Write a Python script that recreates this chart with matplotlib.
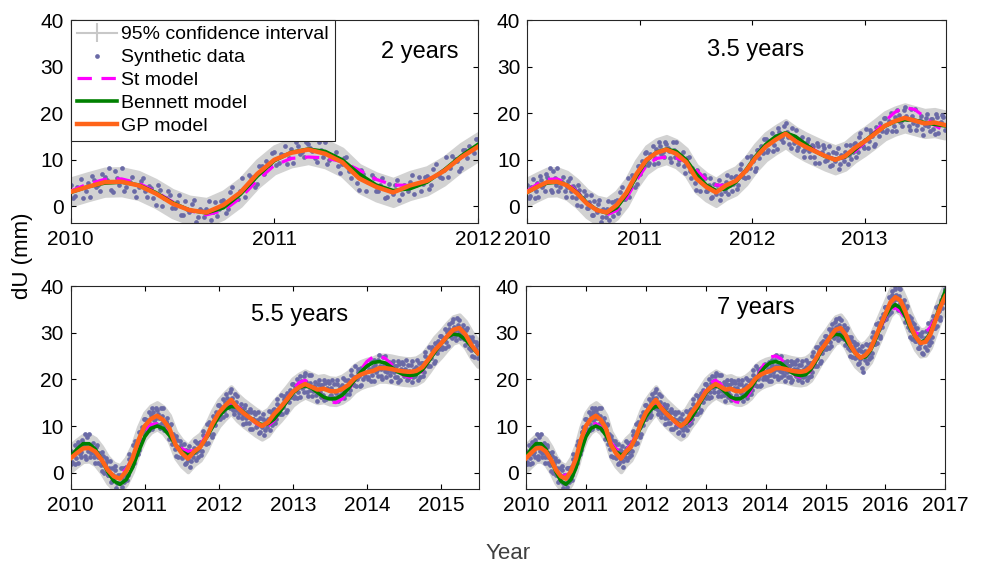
import matplotlib.pyplot as plt
import numpy as np

plt.rcParams['font.family'] = ['Liberation Sans', 'DejaVu Sans']

# GP model fit, monthly values from Jan 2010 (mm)
gp_fit = [3.1, 4.2, 5.2, 5.3, 4.5, 2.8, 0.6, -0.8, -1.3, 0.3, 3.0, 7.0,
          10.0, 11.5, 12.2, 11.3, 9.5, 6.0, 4.2, 3.0, 4.5, 5.5, 7.6, 10.5,
          12.8, 14.3, 15.6, 14.0, 12.8, 11.8, 10.8, 10.0, 10.8, 12.6, 14.0, 15.6,
          17.3, 18.3, 19.0, 18.4, 17.8, 18.0, 17.5, 17.4, 17.9, 18.8, 20.2, 21.0,
          21.5, 21.8, 22.4, 22.4, 22.2, 21.9, 21.7, 21.6, 21.8, 22.6, 24.3, 26.2,
          27.6, 29.2, 30.6, 31.0, 29.6, 27.3, 25.6, 24.6, 25.2, 26.5, 29.0, 31.5,
          34.0, 36.5, 37.6, 36.9, 34.5, 31.5, 29.2, 27.8, 28.0, 29.6, 32.6, 35.5,
          37.8]

# Bennett and St fits for the short records (2 and 3.5 years), monthly
bennett_short = [3.0, 4.2, 5.0, 5.2, 4.6, 3.0, 0.8, -0.8, -1.4, -0.3, 2.6, 6.5,
                 9.8, 11.6, 12.3, 11.8, 10.0, 7.0, 4.6, 3.4, 3.8, 5.2, 7.8, 10.8,
                 13.3, 15.0, 15.8, 15.0, 13.4, 11.8, 10.7, 10.1, 10.6, 12.2, 14.1, 15.8,
                 17.2, 18.2, 18.6, 18.5, 18.0, 17.6, 17.3]
st_short = [3.3, 4.8, 5.8, 5.9, 5.0, 3.2, 1.0, -0.9, -1.8, -0.9, 1.8, 5.6,
            8.8, 10.3, 10.6, 10.4, 9.6, 7.8, 5.8, 4.6, 4.5, 5.6, 7.8, 10.4,
            12.8, 14.6, 15.5, 14.9, 13.5, 12.0, 10.8, 10.2, 10.5, 11.8, 13.8, 16.0,
            18.3, 20.2, 21.2, 20.8, 19.2, 17.4, 16.2]

# Bennett and St fits for the long records (5.5 and 7 years), monthly
bennett_long = [3.5, 5.0, 6.2, 6.2, 5.0, 2.8, 0.2, -1.8, -2.5, -1.5, 1.0, 4.5,
                7.7, 9.5, 10.0, 9.5, 8.0, 6.0, 4.5, 3.8, 4.2, 5.5, 7.5, 9.8,
                12.0, 13.5, 14.2, 14.0, 13.0, 11.8, 10.8, 10.3, 10.5, 11.5, 13.2, 15.2,
                17.0, 18.2, 18.6, 18.2, 17.2, 16.2, 15.8, 15.9, 16.6, 18.0, 19.8, 21.5,
                22.8, 23.6, 23.8, 23.5, 22.6, 21.6, 21.0, 20.8, 21.0, 22.0, 23.8, 25.8,
                27.6, 29.0, 29.7, 29.5, 28.5, 27.0, 25.5, 24.6, 24.8, 26.2, 28.5, 31.2,
                33.6, 35.3, 36.0, 35.3, 33.5, 31.0, 29.0, 28.0, 28.3, 30.0, 32.8, 36.0,
                39.0]
st_long = [3.3, 4.6, 5.5, 5.5, 4.6, 2.6, 0.5, -0.8, -0.5, 0.8, 3.0, 6.2,
           9.0, 10.3, 10.5, 9.8, 8.5, 6.5, 5.2, 4.5, 4.8, 6.0, 8.0, 10.2,
           12.3, 13.8, 14.6, 14.3, 13.2, 11.8, 10.6, 9.8, 10.0, 11.2, 13.2, 15.6,
           17.8, 19.3, 19.8, 19.0, 17.5, 16.0, 15.2, 15.0, 15.8, 17.5, 19.8, 22.0,
           23.8, 24.8, 25.0, 24.5, 23.2, 21.8, 20.8, 20.4, 20.6, 21.8, 23.8, 26.0,
           27.8, 29.2, 29.8, 29.5, 28.5, 27.0, 25.6, 24.8, 25.0, 26.4, 28.6, 31.0,
           33.2, 34.8, 35.3, 34.6, 33.0, 31.2, 30.0, 29.6, 30.0, 31.2, 33.2, 35.8,
           38.5]

# synthetic observations, weekly (1/48 yr) from Jan 2010 (mm)
dU_obs = [4.7, 2.3, 4.0, 1.9, 5.1, 6.6, 4.1, 3.4, 6.4, 8.3, 3.0, 6.0,
          8.2, 4.2, 5.3, 3.4, 4.1, 6.0, 2.0, 4.0, 0.4, 3.6, 1.8, 3.2,
          -0.4, 0.9, -1.9, 1.1, -1.1, 1.4, -2.3, -1.0, -0.5, -3.0, 0.9, -0.6,
          1.3, -0.5, 4.1, 1.5, 3.3, 2.1, 6.7, 5.9, 4.8, 8.7, 9.8, 8.6,
          11.6, 9.3, 11.1, 9.1, 12.4, 13.9, 11.3, 10.5, 13.4, 11.8, 9.5, 12.2,
          13.8, 10.0, 10.8, 8.7, 9.1, 10.5, 6.1, 7.7, 3.6, 6.9, 5.2, 6.7,
          3.2, 4.5, 1.8, 4.8, 2.7, 5.7, 2.6, 4.3, 5.3, 2.7, 6.4, 4.8,
          6.5, 4.6, 9.0, 6.3, 7.9, 6.4, 10.8, 9.7, 8.3, 12.0, 13.0, 11.5,
          14.4, 12.1, 13.9, 11.9, 15.2, 16.8, 14.4, 13.8, 17.9, 15.0, 12.5, 15.1,
          16.5, 12.8, 13.8, 11.8, 12.4, 14.5, 10.6, 12.9, 9.4, 12.9, 11.4, 13.1,
          9.8, 11.2, 8.6, 11.7, 9.7, 12.5, 9.2, 10.8, 11.6, 9.2, 13.1, 11.7,
          13.6, 11.6, 15.7, 12.9, 14.3, 12.5, 16.5, 15.1, 13.4, 16.9, 17.8, 16.2,
          18.9, 16.5, 18.1, 16.1, 19.2, 20.7, 18.1, 17.3, 21.3, 18.7, 16.4, 19.3,
          20.9, 17.4, 18.5, 16.7, 17.4, 19.8, 16.2, 18.8, 15.6, 19.2, 17.9, 19.6,
          16.5, 18.1, 15.7, 18.9, 17.1, 19.8, 16.5, 18.0, 18.7, 16.0, 19.8, 18.1,
          19.8, 17.8, 21.9, 19.1, 20.5, 18.5, 22.3, 20.7, 18.8, 22.0, 22.6, 20.7,
          23.1, 20.5, 22.0, 19.7, 22.7, 24.2, 21.5, 20.8, 25.2, 22.2, 20.1, 23.1,
          24.9, 21.5, 22.7, 21.0, 21.8, 24.0, 20.4, 22.8, 19.5, 23.2, 21.9, 23.8,
          20.7, 22.3, 19.9, 23.1, 21.3, 24.0, 20.5, 22.0, 22.6, 19.9, 23.6, 21.9,
          23.6, 21.6, 25.9, 23.1, 24.6, 22.9, 27.0, 25.6, 24.0, 27.5, 28.2, 26.6,
          29.2, 26.9, 28.7, 26.8, 30.1, 31.8, 29.3, 28.8, 32.9, 30.5, 28.5, 31.6,
          32.7, 29.8, 30.7, 28.7, 29.2, 30.9, 26.8, 28.7, 24.9, 28.2, 26.6, 28.0,
          24.6, 26.0, 23.3, 26.4, 24.3, 27.1, 21.5, 25.3, 26.0, 23.4, 27.3, 25.7,
          27.5, 25.7, 30.2, 27.6, 29.3, 27.7, 32.0, 30.8, 29.3, 33.0, 34.1, 32.7,
          35.6, 33.5, 35.6, 33.9, 37.4, 39.0, 36.5, 35.8, 40.1, 37.2, 34.9, 37.8,
          39.4, 35.4, 36.1, 33.8, 34.1, 35.7, 31.3, 33.1, 29.1, 32.2, 30.5, 31.8,
          28.2, 29.5, 26.7, 29.7, 27.5, 30.2, 25.4, 28.2, 28.8, 26.3, 32.1, 28.7,
          30.6, 29.0, 33.5, 31.1, 32.9, 31.4, 35.8, 34.7, 33.3, 37.0, 37.9, 36.5,
          39.4]

# second set of observations, half a week after each of the above (mm)
dU_obs_b = [1.8, 4.2, 5.9, 3.2, 2.1, 5.7, 4.5, 6.9, 5.7, 3.6, 7.6, 4.6,
            3.3, 5.2, 6.3, 2.1, 5.5, 3.3, 4.3, 1.7, 4.5, 0.0, 1.8, 2.5,
            -0.4, 2.5, -1.8, -0.5, 0.5, -3.3, -0.5, -2.2, 1.1, -1.1, -2.0, 1.1,
            -1.5, 3.0, 2.0, 1.5, 6.0, 4.0, 6.3, 4.1, 8.7, 7.0, 9.2, 11.5,
            8.8, 11.3, 13.0, 10.4, 9.4, 12.9, 11.6, 13.9, 12.6, 10.3, 13.9, 10.7,
            9.2, 10.8, 11.7, 7.2, 10.3, 7.6, 8.2, 5.1, 7.8, 3.3, 5.3, 6.0,
            3.3, 6.2, 2.0, 3.3, 4.6, 1.3, 4.5, 3.3, 6.8, 4.5, 3.4, 6.4,
            3.7, 8.0, 6.8, 6.1, 10.5, 8.2, 10.2, 7.7, 12.1, 10.3, 12.2, 14.4,
            11.6, 14.1, 15.8, 13.2, 12.3, 15.9, 14.8, 17.2, 15.9, 13.4, 16.9, 13.5,
            12.0, 13.8, 14.8, 10.5, 13.9, 11.8, 13.1, 10.6, 13.7, 9.4, 11.6, 12.5,
            9.9, 12.9, 8.8, 10.2, 11.5, 8.0, 11.1, 9.7, 13.2, 11.1, 10.2, 13.4,
            10.7, 14.8, 13.5, 12.6, 16.7, 14.1, 15.8, 13.0, 17.1, 15.1, 17.0, 19.0,
            16.0, 18.4, 20.0, 17.3, 16.2, 19.7, 18.4, 20.7, 19.4, 17.2, 20.9, 17.8,
            16.4, 18.4, 19.5, 15.4, 19.0, 17.3, 18.8, 16.7, 19.9, 15.8, 18.1, 19.2,
            16.7, 19.9, 15.9, 17.5, 18.9, 15.3, 18.3, 16.8, 20.2, 17.8, 16.8, 19.7,
            16.9, 21.0, 19.7, 18.8, 22.8, 20.0, 21.5, 18.5, 22.4, 20.1, 21.6, 23.3,
            20.1, 22.3, 23.8, 20.9, 19.7, 23.1, 21.9, 24.1, 22.9, 20.8, 24.7, 21.7,
            20.5, 22.5, 23.8, 19.7, 23.4, 21.5, 22.9, 20.6, 23.9, 19.8, 22.2, 23.3,
            20.9, 24.1, 20.1, 21.7, 23.0, 19.4, 22.3, 20.8, 24.1, 21.7, 20.6, 23.5,
            20.7, 24.9, 23.7, 22.9, 27.0, 24.5, 26.3, 23.6, 27.7, 25.6, 27.4, 29.3,
            26.4, 28.9, 30.7, 28.1, 27.2, 30.8, 29.8, 32.2, 31.2, 29.2, 33.2, 30.3,
            28.9, 30.7, 31.6, 27.3, 30.5, 28.1, 29.1, 26.3, 29.1, 24.7, 26.6, 27.4,
            24.7, 27.6, 23.5, 24.8, 26.1, 22.5, 25.6, 24.1, 27.6, 25.3, 24.3, 27.3,
            24.7, 29.1, 28.1, 27.5, 31.8, 29.4, 31.4, 28.8, 33.1, 31.3, 33.4, 35.6,
            32.9, 35.6, 37.7, 35.3, 34.4, 38.0, 36.9, 39.3, 38.0, 35.7, 39.5, 36.3,
            34.7, 36.2, 36.9, 32.3, 35.3, 32.8, 33.5, 30.6, 33.2, 28.6, 30.5, 31.1,
            28.2, 31.1, 26.8, 28.1, 29.2, 25.6, 28.5, 27.0, 30.4, 28.2, 27.3, 30.4,
            27.9, 32.4, 31.5, 31.0, 35.5, 33.2, 35.2, 32.7, 37.1, 35.3, 37.2, 39.4]

ci_half = 2.8  # 95% interval half width (mm)

# record length (years), right end of the time axis, tick years
panels = [
    dict(label='2 years', span=2.0, x_end=2012.0, xmax=2012.0,
         ticks=range(2010, 2013), bennett=bennett_short, st=st_short,
         pos=(0.858, 0.844), rect=[0.0719, 0.6058, 0.4143, 0.3588]),
    dict(label='3.5 years', span=3.5, x_end=2013.71, xmax=2013.72,
         ticks=range(2010, 2014), bennett=bennett_short, st=st_short,
         pos=(0.546, 0.852), rect=[0.5364, 0.6058, 0.4256, 0.3588]),
    dict(label='5.5 years', span=5.5, x_end=2015.5, xmax=2015.52,
         ticks=range(2010, 2016), bennett=bennett_long, st=st_long,
         pos=(0.561, 0.857), rect=[0.0719, 0.1345, 0.4157, 0.3593]),
    dict(label='7 years', span=7.0, x_end=2017.0, xmax=2017.0,
         ticks=range(2010, 2018), bennett=bennett_long, st=st_long,
         pos=(0.549, 0.892), rect=[0.5351, 0.1345, 0.4266, 0.3593]),
]

c_ci = '#d2d2d2'
c_dot = '#6a6aa6'
c_st = '#ff00ff'
c_ben = '#008000'
c_gp = '#ff6419'
st_dash = (0, (4.5, 3.0))

fig = plt.figure(figsize=(9.83, 5.65), dpi=100)

for i, p in enumerate(panels):
    ax = fig.add_axes(p['rect'])
    n_m = int(round(p['span'] * 12)) + 1
    n_o = int(round(p['span'] * 48)) + 1
    scale = (p['x_end'] - 2010) / p['span']
    x_m = 2010 + np.arange(n_m) / 12 * scale
    x_o = 2010 + np.arange(n_o) / 48 * scale
    x_b = 2010 + (np.arange(n_o - 1) + 0.5) / 48 * scale
    gp = np.array(gp_fit[:n_m])

    ax.fill_between(x_m, gp - ci_half, gp + ci_half, color=c_ci, lw=3, zorder=1)
    ax.plot(x_o, dU_obs[:n_o], 'o', ms=3.4, color=c_dot, mec='none', zorder=2)
    ax.plot(x_b, dU_obs_b[:n_o - 1], 'o', ms=3.4, color=c_dot, mec='none', zorder=2)
    ax.plot(x_m, p['st'][:n_m], color=c_st, lw=2.3, ls=st_dash, zorder=3)
    ax.plot(x_m, p['bennett'][:n_m], color=c_ben, lw=2.6, zorder=4)
    ax.plot(x_m, gp, color=c_gp, lw=3.2, zorder=5)

    ax.set_xlim(2010, p['xmax'])
    ax.set_ylim(-3.5, 40)
    ax.set_xticks(list(p['ticks']))
    ax.set_yticks([0, 10, 20, 30, 40])
    ax.tick_params(direction='in', length=3.5, width=0.8, labelsize=15,
                   top=True, right=True, pad=5)
    for s in ax.spines.values():
        s.set_linewidth(0.8)
        s.set_color('#262626')
    ax.text(p['pos'][0], p['pos'][1], p['label'], transform=ax.transAxes,
            ha='center', va='center', fontsize=17)

    if i == 0:
        h_ci = ax.errorbar([], [], yerr=[], color='#c8c8c8', lw=1.5, capsize=3)
        h_dot, = ax.plot([], [], 'o', ms=3.4, color=c_dot, mec='none')
        h_st, = ax.plot([], [], color=c_st, lw=2.3, ls=st_dash)
        h_ben, = ax.plot([], [], color=c_ben, lw=2.6)
        h_gp, = ax.plot([], [], color=c_gp, lw=3.2)
        leg = ax.legend([h_ci, h_dot, h_st, h_ben, h_gp],
                        ['95% confidence interval', 'Synthetic data', 'St model',
                         'Bennett model', 'GP model'],
                        loc='upper left', borderaxespad=0, fontsize=14,
                        handlelength=2.1, handletextpad=0.2, labelspacing=0.27,
                        borderpad=0.3, numpoints=1, fancybox=False, framealpha=1)
        leg.get_frame().set_edgecolor('#262626')
        leg.get_frame().set_linewidth(0.8)
        leg.set_zorder(10)

fig.text(0.0224, 0.547, 'dU (mm)', rotation=90, ha='center', va='center', fontsize=16)
fig.text(0.5168, 0.0212, 'Year', ha='center', va='center', fontsize=16, color='#404040')

fig.savefig('out.png', dpi=100)
